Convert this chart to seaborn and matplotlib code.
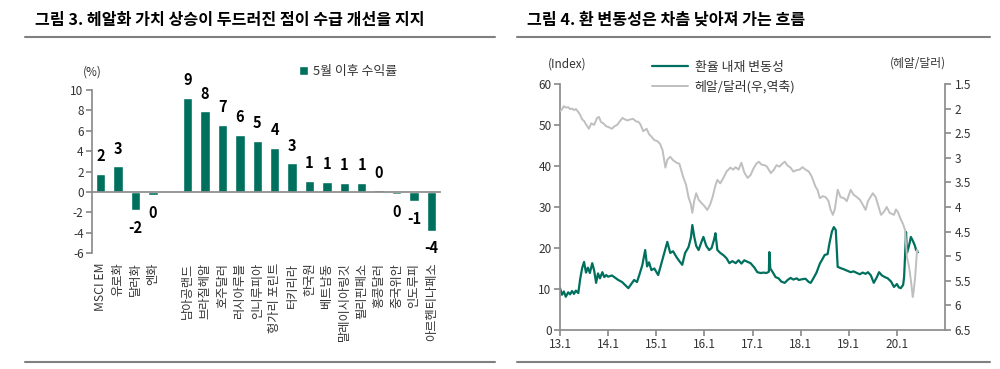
import math
import numpy as np
import pandas as pd
import matplotlib
matplotlib.use("Agg")
import matplotlib.pyplot as plt
from matplotlib.lines import Line2D
import seaborn as sns

# ---------------- data ----------------
title_left = "그림 3. 헤알화 가치 상승이 두드러진 점이 수급 개선을 지지"
title_right = "그림 4. 환 변동성은 차츰 낮아져 가는 흐름"

categories = ["MSCI EM", "유로화", "달러화", "엔화", " ",
              "남아공랜드", "브라질헤알", "호주달러", "러시아루블", "인니루피아",
              "헝가리 포린트", "터키리라", "한국원", "베트남동", "말레이시아링깃",
              "필리핀페소", "홍콩달러", "중국위안", "인도루피", "아르헨티나페소"]
returns = [1.8, 2.5, -1.8, -0.3, np.nan,
           9.2, 7.9, 6.6, 5.6, 5.0,
           4.3, 2.8, 1.1, 1.0, 0.9,
           0.9, 0.15, -0.2, -0.9, -3.8]
bar_legend = "5월 이후 수익률"

vol_dates = [2013.00, 2013.04, 2013.08, 2013.12, 2013.17, 2013.21, 2013.25, 2013.29, 2013.33, 2013.38,
             2013.42, 2013.46, 2013.50, 2013.54, 2013.58, 2013.62, 2013.67, 2013.71, 2013.75, 2013.79,
             2013.83, 2013.88, 2013.92, 2013.96, 2014.00, 2014.08, 2014.15, 2014.21, 2014.29, 2014.35,
             2014.42, 2014.48, 2014.54, 2014.60, 2014.65, 2014.71, 2014.77, 2014.81, 2014.85, 2014.90,
             2014.96, 2015.04, 2015.10, 2015.16, 2015.23, 2015.29, 2015.35, 2015.42, 2015.48, 2015.54,
             2015.60, 2015.67, 2015.72, 2015.75, 2015.79, 2015.83, 2015.88, 2015.94, 2015.98, 2016.04,
             2016.10, 2016.15, 2016.20, 2016.23, 2016.27, 2016.33, 2016.40, 2016.46, 2016.52, 2016.58,
             2016.65, 2016.71, 2016.77, 2016.83, 2016.90, 2016.96, 2017.04, 2017.10, 2017.17, 2017.23,
             2017.29, 2017.34, 2017.35, 2017.37, 2017.42, 2017.48, 2017.54, 2017.60, 2017.67, 2017.73,
             2017.79, 2017.85, 2017.92, 2017.96, 2018.04, 2018.10, 2018.17, 2018.21, 2018.27, 2018.33,
             2018.40, 2018.44, 2018.50, 2018.56, 2018.60, 2018.65, 2018.69, 2018.73, 2018.77, 2018.83,
             2018.90, 2018.96, 2019.04, 2019.10, 2019.17, 2019.23, 2019.29, 2019.35, 2019.40, 2019.46,
             2019.52, 2019.58, 2019.63, 2019.69, 2019.75, 2019.81, 2019.88, 2019.94, 2020.00, 2020.04,
             2020.08, 2020.13, 2020.15, 2020.17, 2020.19, 2020.21, 2020.24, 2020.27, 2020.29, 2020.33,
             2020.37, 2020.40, 2020.44]
vol_values = [10.2, 8.6, 9.4, 8.1, 9.2, 8.7, 9.5, 8.8, 9.6, 9.0,
              12.5, 15.1, 16.6, 14.0, 15.2, 13.9, 16.3, 14.5, 11.5, 13.8,
              12.6, 14.1, 12.9, 13.4, 13.0, 13.3, 12.7, 12.2, 11.7, 11.0,
              10.2, 11.2, 12.2, 11.7, 13.5, 15.8, 19.5, 15.5, 16.5, 14.6,
              15.0, 13.4, 16.0, 18.5, 21.5, 18.8, 19.2, 17.8, 16.8, 15.9,
              18.8, 20.2, 22.5, 25.6, 22.7, 20.5, 19.5, 21.5, 22.7, 20.5,
              19.5, 20.0, 22.0, 23.6, 19.5, 18.8, 18.2, 17.5, 16.3, 16.8,
              16.3, 17.0, 16.2, 17.0, 16.6, 16.3, 15.2, 14.1, 13.9, 14.0,
              13.9, 14.2, 19.0, 15.0, 14.1, 12.9, 12.6, 11.8, 11.5, 12.2,
              12.7, 12.3, 12.6, 12.2, 12.4, 12.5, 11.7, 11.5, 12.7, 14.0,
              16.2, 17.0, 18.3, 18.5, 21.2, 24.0, 25.1, 24.4, 15.4, 15.1,
              14.8, 14.5, 14.1, 14.3, 13.9, 13.6, 14.0, 13.7, 14.1, 13.3,
              11.5, 12.8, 14.1, 13.3, 12.9, 12.6, 11.8, 10.5, 11.2, 10.4,
              10.2, 11.0, 12.9, 18.0, 23.9, 18.8, 20.0, 21.5, 22.7, 21.8,
              20.7, 19.5, 19.0]

brl_dates = [2013.00, 2013.04, 2013.08, 2013.12, 2013.17, 2013.21, 2013.25, 2013.29, 2013.33, 2013.38,
             2013.42, 2013.46, 2013.50, 2013.54, 2013.60, 2013.65, 2013.71, 2013.77, 2013.81, 2013.85,
             2013.90, 2013.96, 2014.02, 2014.08, 2014.13, 2014.19, 2014.25, 2014.30, 2014.35, 2014.40,
             2014.46, 2014.52, 2014.58, 2014.63, 2014.67, 2014.73, 2014.80, 2014.85, 2014.90, 2014.96,
             2015.02, 2015.08, 2015.13, 2015.19, 2015.23, 2015.29, 2015.35, 2015.42, 2015.48, 2015.56,
             2015.62, 2015.67, 2015.72, 2015.75, 2015.79, 2015.83, 2015.88, 2015.94, 2016.00, 2016.06,
             2016.12, 2016.17, 2016.23, 2016.27, 2016.33, 2016.40, 2016.46, 2016.54, 2016.60, 2016.65,
             2016.71, 2016.77, 2016.83, 2016.90, 2016.96, 2017.02, 2017.08, 2017.13, 2017.19, 2017.25,
             2017.30, 2017.38, 2017.44, 2017.50, 2017.56, 2017.62, 2017.67, 2017.73, 2017.79, 2017.85,
             2017.92, 2017.98, 2018.04, 2018.10, 2018.17, 2018.23, 2018.31, 2018.35, 2018.40, 2018.46,
             2018.52, 2018.58, 2018.62, 2018.67, 2018.71, 2018.77, 2018.83, 2018.90, 2018.96, 2019.04,
             2019.10, 2019.17, 2019.23, 2019.29, 2019.35, 2019.40, 2019.50, 2019.56, 2019.62, 2019.67,
             2019.73, 2019.79, 2019.85, 2019.94, 2019.98, 2020.02, 2020.08, 2020.13, 2020.17, 2020.21,
             2020.25, 2020.29, 2020.33, 2020.35, 2020.38, 2020.42, 2020.44]
brl_values = [2.05, 2.02, 1.95, 1.98, 1.97, 2.01, 2.00, 2.03, 2.01, 2.07,
              2.13, 2.22, 2.25, 2.32, 2.41, 2.30, 2.33, 2.19, 2.17, 2.27,
              2.30, 2.36, 2.38, 2.41, 2.36, 2.33, 2.25, 2.19, 2.22, 2.24,
              2.22, 2.21, 2.26, 2.27, 2.32, 2.46, 2.41, 2.52, 2.57, 2.64,
              2.66, 2.72, 2.84, 3.20, 3.04, 2.98, 3.05, 3.10, 3.12, 3.39,
              3.55, 3.80, 3.95, 4.12, 3.87, 3.72, 3.85, 3.92, 3.98, 4.06,
              3.95, 3.80, 3.56, 3.45, 3.52, 3.40, 3.28, 3.20, 3.24, 3.19,
              3.24, 3.10, 3.30, 3.41, 3.35, 3.22, 3.12, 3.08, 3.14, 3.15,
              3.18, 3.31, 3.25, 3.15, 3.18, 3.12, 3.08, 3.16, 3.20, 3.28,
              3.25, 3.24, 3.19, 3.24, 3.28, 3.38, 3.59, 3.65, 3.82, 3.78,
              3.80, 3.88, 4.05, 4.16, 4.05, 3.65, 3.80, 3.82, 3.88, 3.65,
              3.75, 3.80, 3.85, 3.95, 4.06, 3.88, 3.72, 3.80, 4.00, 4.16,
              4.10, 4.00, 4.12, 4.16, 4.05, 4.10, 4.25, 4.35, 4.47, 5.02,
              5.20, 5.48, 5.83, 5.70, 5.42, 4.87, 4.90]

vol_label = "환율 내재 변동성"
brl_label = "헤알/달러(우,역축)"
year_ticks = [2013, 2014, 2015, 2016, 2017, 2018, 2019, 2020]
year_labels = ["13.1", "14.1", "15.1", "16.1", "17.1", "18.1", "19.1", "20.1"]

# ---------------- style ----------------
sns.set_theme(style="white")
plt.rcParams["font.family"] = ["Noto Sans CJK KR", "DejaVu Sans"]
plt.rcParams["axes.unicode_minus"] = False

GREEN = "#00705E"
LGRAY = "#BFBFBF"
AXGRAY = "#8C8C8C"
TXT = "#333333"

fig = plt.figure(figsize=(10, 3.69), dpi=100)

# ---------------- left panel ----------------
ax1 = fig.add_axes([0.092, 0.3144, 0.348, 0.4416])
df = pd.DataFrame({"cat": categories, "val": returns})
sns.barplot(data=df, x="cat", y="val", order=categories, color=GREEN,
            saturation=1, width=0.55, ax=ax1, label=bar_legend)
ax1.set_xlim(-0.5, len(categories) - 0.5)
ax1.set_ylim(-6, 10)
ax1.set_yticks(range(-6, 11, 2))
ax1.set_xlabel("")
ax1.set_ylabel("")
for s in ["top", "right"]:
    ax1.spines[s].set_visible(False)
ax1.spines["left"].set_color(AXGRAY)
ax1.spines["bottom"].set_color(AXGRAY)
ax1.spines["bottom"].set_position(("data", 0))
ax1.set_xticks(range(len(categories)))
ax1.set_xticklabels(categories, rotation=90, fontsize=8.8, color=TXT)
ax1.set_xticks(np.arange(0.5, len(categories) - 0.5, 1), minor=True)
ax1.tick_params(axis="x", which="major", length=0, pad=51)
ax1.tick_params(axis="x", which="minor", length=4, direction="out", color=AXGRAY)
ax1.tick_params(axis="y", length=4, direction="out", color=AXGRAY, labelsize=8.5,
                labelcolor=TXT, pad=2, left=True)

def lab(v):
    if v is None or (isinstance(v, float) and np.isnan(v)):
        return ""
    return f"{math.floor(v + 0.5)}"

for c in ax1.containers:
    ax1.bar_label(c, labels=[lab(b.get_height()) for b in c], padding=7,
                  fontsize=10.5, fontweight="bold", color="black")

leg1 = ax1.legend(loc="center left", bbox_to_anchor=(0.299, 0.805),
                  bbox_transform=fig.transFigure, frameon=False, fontsize=9.3,
                  handlelength=0.7, handleheight=0.7, handletextpad=0.4,
                  borderpad=0, borderaxespad=0)
for t in leg1.get_texts():
    t.set_color(TXT)
fig.text(0.092, 0.805, "(%)", ha="center", va="center", fontsize=8.5, color=TXT)

# ---------------- right panel ----------------
ax2 = fig.add_axes([0.56, 0.1057, 0.385, 0.6667])
sns.lineplot(x=vol_dates, y=vol_values, ax=ax2, color=GREEN, lw=1.6, label=vol_label)
ax2.set_xlim(2013, 2021)
ax2.set_ylim(0, 60)
ax2.set_yticks(range(0, 61, 10))
ax2.set_xticks(year_ticks)
ax2.set_xticklabels(year_labels)
for s in ["top", "right"]:
    ax2.spines[s].set_visible(False)
ax2.spines["left"].set_color(AXGRAY)
ax2.spines["bottom"].set_color(AXGRAY)
ax2.tick_params(axis="both", length=4, direction="out", color=AXGRAY,
                labelsize=8.5, labelcolor=TXT, pad=2, left=True, bottom=True)

ax3 = ax2.twinx()
sns.lineplot(x=brl_dates, y=brl_values, ax=ax3, color=LGRAY, lw=1.4, label=brl_label)
ax3.set_ylim(6.5, 1.5)
rt = np.arange(1.5, 6.51, 0.5)
ax3.set_yticks(rt)
ax3.set_yticklabels([f"{v:g}" for v in rt])
for s in ["top", "left", "bottom"]:
    ax3.spines[s].set_visible(False)
ax3.spines["right"].set_color(AXGRAY)
ax3.tick_params(axis="y", length=4, direction="out", color=AXGRAY,
                labelsize=8.5, labelcolor=TXT, pad=3, right=True)
ax2.set_xlabel(""); ax2.set_ylabel(""); ax3.set_ylabel("")

h1, l1 = ax2.get_legend_handles_labels()
h2, l2 = ax3.get_legend_handles_labels()
ax2.get_legend().remove()
ax3.get_legend().remove()
leg2 = fig.legend(h1 + h2, l1 + l2, loc="upper left", bbox_to_anchor=(0.652, 0.835),
                  frameon=False, fontsize=9.3, handlelength=2.8, handletextpad=0.5,
                  labelspacing=0.5, borderpad=0, borderaxespad=0)
for t in leg2.get_texts():
    t.set_color(TXT)

fig.text(0.567, 0.827, "(Index)", ha="center", va="center", fontsize=8.5, color=TXT)
fig.text(0.918, 0.829, "(헤알/달러)", ha="center", va="center", fontsize=8.5, color=TXT)

# ---------------- titles & rules ----------------
fig.text(0.035, 0.946, title_left, ha="left", va="center", fontsize=11.6,
         fontweight="bold", color="black")
fig.text(0.527, 0.946, title_right, ha="left", va="center", fontsize=11.6,
         fontweight="bold", color="black")
for x0, x1 in [(0.025, 0.495), (0.517, 0.990)]:
    fig.add_artist(Line2D([x0, x1], [0.8997, 0.8997], transform=fig.transFigure,
                          color="#808080", lw=1.5))
    fig.add_artist(Line2D([x0, x1], [0.019, 0.019], transform=fig.transFigure,
                          color="#808080", lw=1.5))

fig.savefig("out.png", dpi=100)
